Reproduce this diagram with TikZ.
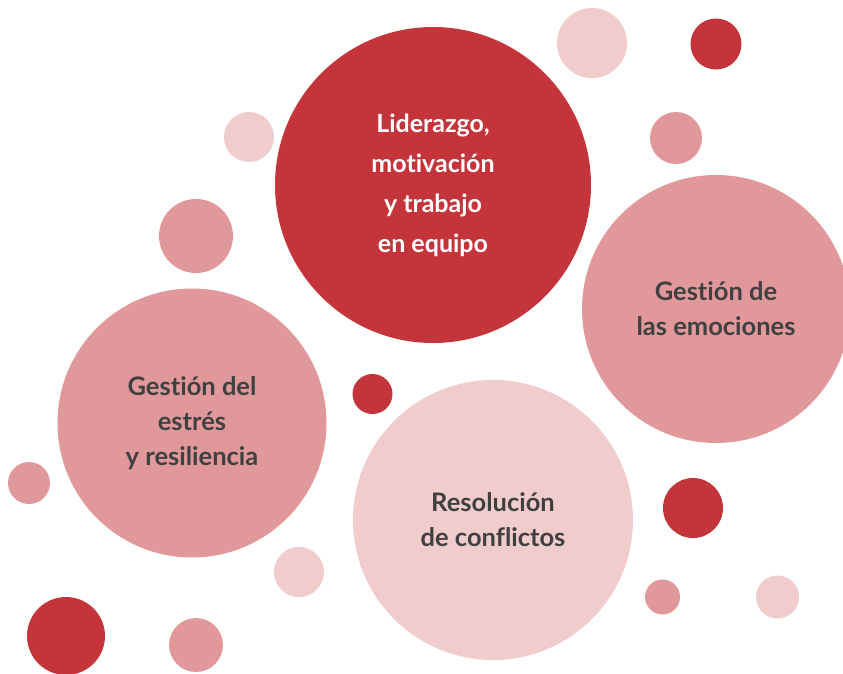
\documentclass[tikz,border=0pt]{standalone}
\usepackage{fontspec}
\setmainfont{Lato}[Ligatures=NoCommon]
\usepackage{xcolor}
\definecolor{bubblered}{HTML}{C4343B}
\definecolor{bubblepink}{HTML}{E0989B}
\definecolor{bubblelight}{HTML}{F0CCCD}
\definecolor{bubbletext}{HTML}{404040}

\begin{document}
\begin{tikzpicture}[x=1pt,y=-1pt]
\tikzset{bubble/.style={circle,inner sep=0pt,align=center,text=bubbletext,font=\bfseries\fontsize{25.5}{35}\selectfont}}
\tikzset{dot/.style={circle,inner sep=0pt}}

\useasboundingbox (0,0) rectangle (843,673);

\foreach \x/\y/\r/\c [count=\i] in {592/43/35/bubblelight, 716/44/25.5/bubblered, 676/138/26/bubblepink,
  249/137/25/bubblelight, 196/236/37/bubblepink, 372.5/394/20/bubblered, 29/483/21/bubblepink,
  693/508/30/bubblered, 299/572/25/bubblelight, 662.5/597/17.5/bubblepink, 777.5/597/21.5/bubblelight,
  66/636/39/bubblered, 196/645/27/bubblepink}
  \node[dot,fill=\c,minimum size=2*\r pt] (dot\i) at (\x,\y) {};

\node[bubble,fill=bubblered,minimum size=316pt,text=white,font=\bfseries\fontsize{25}{40}\selectfont] (lider) at (433,185) {Liderazgo,\\motivación\\y trabajo\\en equipo};
\node[bubble,fill=bubblepink,minimum size=268pt] (emociones) at (716,309) {Gestión de\\las emociones};
\node[bubble,fill=bubblepink,minimum size=269pt] (estres) at (192,423) {Gestión del\\estrés\\y resiliencia};
\node[bubble,fill=bubblelight,minimum size=280pt] (conflictos) at (493,520) {Resolución\\de conflictos};

\end{tikzpicture}
\end{document}
